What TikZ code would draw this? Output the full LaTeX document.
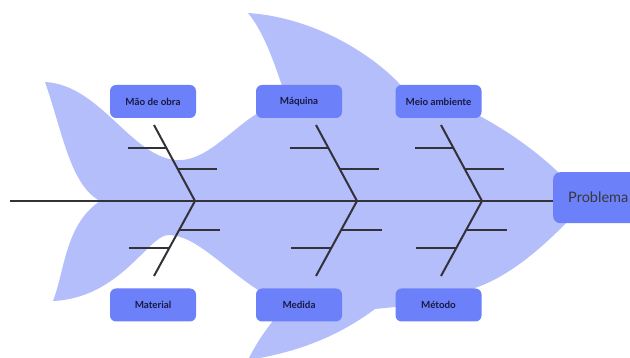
\documentclass[tikz,border=0pt]{standalone}
\usepackage{fontspec}
\setmainfont{Lato}
\usetikzlibrary{calc}
\definecolor{fishc}{RGB}{180,190,251}
\definecolor{boxc}{RGB}{108,128,250}
\definecolor{txtc}{RGB}{24,26,64}
\definecolor{bonec}{RGB}{50,50,56}
\tikzset{
  cause/.style={fill=boxc, rounded corners=6pt, minimum width=86pt, minimum height=33pt,
    inner sep=0pt, font=\bfseries\fontsize{9.8}{11}\selectfont, text=txtc},
  bone/.style={draw=bonec, line width=2pt},
  twig/.style={draw=bonec, line width=1.8pt}
}
\begin{document}
\begin{tikzpicture}[x=1pt,y=-1pt]
\useasboundingbox (0,0) rectangle (630,358);
% fish body
\fill[fishc] (45,82) .. controls (100,85) and (130,155) .. (175,160)
  .. controls (205,163) and (230,130) .. (258,113)
  -- (285,95)
  .. controls (272,55) and (262,30) .. (248,13)
  .. controls (320,18) and (380,60) .. (405,90)
  -- (478,115)
  .. controls (515,135) and (540,155) .. (558,172)
  -- (575,197) -- (566,223)
  .. controls (530,260) and (500,280) .. (472,289)
  -- (395,307) -- (375,309)
  .. controls (340,335) and (300,352) .. (248,360)
  .. controls (258,340) and (266,330) .. (275,318)
  -- (258,290)
  .. controls (220,265) and (195,235) .. (168,235)
  .. controls (148,236) and (120,298) .. (53,301)
  .. controls (65,270) and (65,225) .. (100,201)
  .. controls (70,185) and (62,130) .. (45,82) -- cycle;
% boxes
\node[cause] (mao) at (153,101.5) {Mão de obra};
\node[cause] (maq) at (299,101.5) {Máquina};
\node[cause] (meio) at (438.5,101.5) {Meio ambiente};
\node[cause] (mat) at (153,305) {Material};
\node[cause] (med) at (299,305) {Medida};
\node[cause] (met) at (438.5,305) {Método};
\node[fill=boxc, rounded corners=7pt, anchor=north west, minimum height=51pt,
  text width=75pt, inner xsep=15pt, inner ysep=0pt, align=left,
  font=\fontsize{14.5}{16}\selectfont, text=black!78] (prob) at (553,172) {Problema};
% spine
\coordinate (tail) at (10,201);
\draw[bone] (tail) -- (tail -| prob.west);
% bones
\foreach \dx/\n in {0/1,162/2,287/3}{
  \coordinate (j\n) at (195+\dx,201);
  \coordinate (u\n) at (154+\dx,125);
  \coordinate (l\n) at (154+\dx,276);
  \draw[bone] (u\n) -- (j\n) -- (l\n);
  \draw[twig] ($(u\n)!0.3026!(j\n)$) -- ++(-38,0);
  \draw[twig] ($(u\n)!0.579!(j\n)$) -- ++(39,0);
  \draw[twig] ($(j\n)!0.387!(l\n)$) -- ++(41,0);
  \draw[twig] ($(j\n)!0.627!(l\n)$) -- ++(-40,0);
}
\end{tikzpicture}
\end{document}
